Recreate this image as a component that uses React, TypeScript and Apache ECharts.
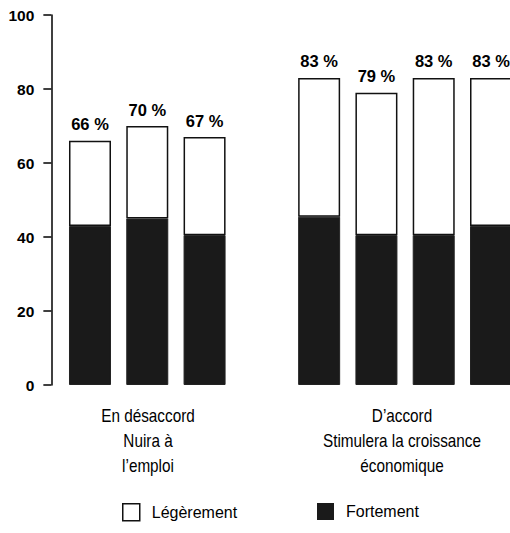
import React, { useEffect, useRef } from "react";
import * as echarts from "echarts";

// Bars: 3 "En désaccord / Nuira à l'emploi", gap, 4 "D'accord / Stimulera la croissance économique"
const categories = ["d1", "d2", "d3", "gap", "a1", "a2", "a3", "a4"];
const totals: (number | null)[] = [66, 70, 67, null, 83, 79, 83, 83];
const fortement: (number | null)[] = [43, 45, 40.5, null, 45.5, 40.5, 40.5, 43];
const legerement: (number | null)[] = totals.map((t, i) =>
  t == null || fortement[i] == null ? null : t - (fortement[i] as number)
);
const yTicks = { min: 0, max: 100, interval: 20 };
const groupLabels = [
  ["En désaccord", "Nuira à", "l’emploi"],
  ["D’accord", "Stimulera la croissance", "économique"],
];
const seriesNames = ["Fortement", "Légèrement"];

const FONT = "'Liberation Sans', Arial, sans-serif";

export default function App() {
  const ref = useRef<HTMLDivElement>(null);
  useEffect(() => {
    if (!ref.current) return;
    const chart = echarts.init(ref.current, null, { renderer: "svg" });
    chart.setOption({
      animation: false,
      backgroundColor: "#fff",
      grid: { left: 61.35, right: 10.35, top: 15, bottom: 148 },
      xAxis: {
        type: "category",
        data: categories,
        axisLine: { show: false },
        axisTick: { show: false },
        axisLabel: { show: false },
      },
      yAxis: {
        type: "value",
        min: yTicks.min,
        max: yTicks.max,
        interval: yTicks.interval,
        offset: 10,
        axisLine: { show: true, lineStyle: { color: "#000", width: 1.5 } },
        axisTick: { show: true, length: 8, lineStyle: { color: "#000", width: 1.5 } },
        axisLabel: {
          color: "#000",
          fontFamily: FONT,
          fontWeight: "bold",
          fontSize: 15.5,
          margin: 17,
        },
        splitLine: { show: false },
      },
      legend: [
        {
          data: [seriesNames[1]],
          left: 122,
          top: 503,
          padding: 0,
          itemWidth: 17,
          itemHeight: 17,
          icon: "rect",
          itemStyle: { color: "#fff", borderColor: "#111", borderWidth: 1.5 },
          textStyle: { fontFamily: FONT, fontSize: 16, color: "#000", padding: [0, 0, 0, 7] },
        },
        {
          data: [seriesNames[0]],
          left: 317,
          top: 503,
          padding: 0,
          itemWidth: 17,
          itemHeight: 17,
          icon: "rect",
          itemStyle: { color: "#1a1a1a", borderWidth: 0 },
          textStyle: { fontFamily: FONT, fontSize: 16, color: "#000", padding: [0, 0, 0, 7] },
        },
      ],
      series: [
        {
          name: seriesNames[0],
          type: "bar",
          stack: "s",
          barWidth: 42,
          data: fortement,
          itemStyle: { color: "#1a1a1a", borderColor: "#222", borderWidth: 1 },
        },
        {
          name: seriesNames[1],
          type: "bar",
          stack: "s",
          barWidth: 42,
          data: legerement,
          itemStyle: { color: "#fff", borderColor: "#111", borderWidth: 1.5 },
          label: {
            show: true,
            position: "top",
            distance: 8,
            color: "#000",
            fontFamily: FONT,
            fontWeight: "bold",
            fontSize: 16.5,
            formatter: (p: any) => `${totals[p.dataIndex]} %`,
          },
        },
      ],
      graphic: groupLabels.map((lines, gi) => ({
        type: "text",
        x: gi === 0 ? 148 : 402,
        y: 404,
        scaleX: 0.85,
        style: {
          text: lines.join("\n"),
          textAlign: "center",
          textVerticalAlign: "top",
          fontFamily: FONT,
          fontSize: 18,
          lineHeight: 25,
          fill: "#000",
        },
      })),
    });
    return () => chart.dispose();
  }, []);
  return (
    <div style={{ position: "absolute", left: 0, top: 0, width: 510, height: 533, overflow: "hidden", background: "#fff" }}>
      <div ref={ref} style={{ width: 530, height: 533 }} />
    </div>
  );
}
